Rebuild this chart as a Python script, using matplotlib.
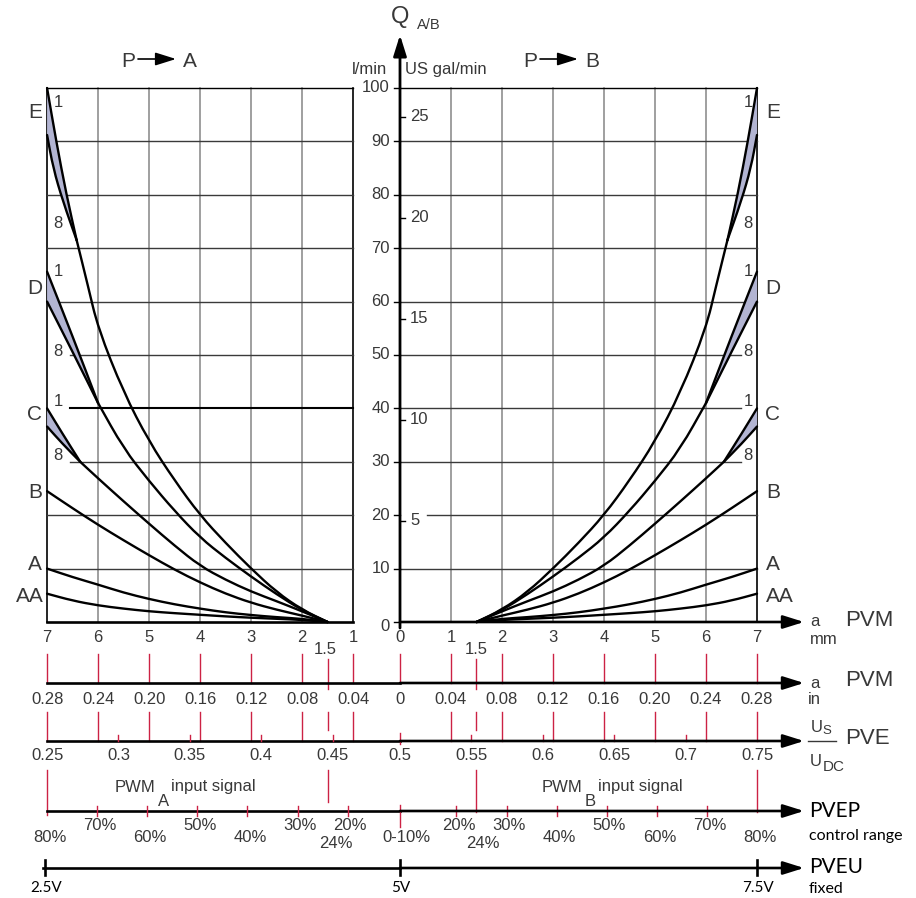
import numpy as np
import matplotlib.pyplot as plt
from matplotlib.patches import Polygon, PathPatch
from matplotlib.path import Path

plt.rcParams['font.family'] = ['Liberation Sans', 'DejaVu Sans']

# flow Q [l/min] against spool travel a [mm]
a_full = [1.5, 2, 2.5, 3, 3.5, 4, 4.5, 5, 5.5, 6, 6.5, 7]
q_AA = [0, 0.4, 0.6, 0.8, 1.05, 1.35, 1.65, 2.0, 2.5, 3.1, 4.0, 5.3]
q_A = [0, 0.6, 0.9, 1.3, 1.8, 2.5, 3.3, 4.3, 5.5, 7.0, 8.4, 10]
q_B = [0, 1.2, 2.3, 3.6, 5.3, 7.4, 9.8, 12.5, 15.3, 18.2, 21.3, 24.5]

a_C = [1.5, 2, 2.5, 3, 3.5, 4, 4.5, 5, 5.5, 6, 6.35]
q_C = [0, 2.0, 3.9, 5.7, 7.9, 10.5, 14.3, 18.4, 22.6, 26.9, 30.0]
a_C1, q_C1 = [6.35, 6.7, 7], [30, 35.3, 40]
a_C8, q_C8 = [6.35, 6.7, 7], [30, 33.4, 36.6]

a_D = [1.5, 2, 2.5, 3, 3.5, 4, 4.5, 5, 5.5, 6]
q_D = [0, 2.2, 5.2, 8.5, 12.0, 15.8, 20.8, 26.4, 32.5, 41]
a_D1, q_D1 = [6, 6.5, 7], [41, 53.5, 65.6]
a_D8, q_D8 = [6, 6.5, 7], [41, 50.6, 60]

a_E = [1.5, 2, 2.5, 3, 3.5, 4, 4.5, 5, 5.5, 6, 6.2, 6.42]
q_E = [0, 2.3, 5.6, 10, 14.8, 20, 26.5, 33.8, 43, 55, 63, 71.5]
a_E1, q_E1 = [6.42, 6.62, 6.82, 7], [71.5, 80, 90, 100]
a_E8, q_E8 = [6.42, 6.69, 6.88, 7], [71.5, 78.8, 85, 91.2]

curve_labels = ['E', 'D', 'C', 'B', 'A', 'AA']
label_q = [95.5, 62.5, 38.8, 24.2, 10.7, 4.7]

q_ticks = list(range(0, 101, 10))
gal_ticks = [5, 10, 15, 20, 25]
mm_ticks = [1, 2, 3, 4, 5, 6, 7]
in_labels = ['0.04', '0.08', '0.12', '0.16', '0.20', '0.24', '0.28']
pve_left = [0.25, 0.3, 0.35, 0.4, 0.45]
pve_right = [0.55, 0.6, 0.65, 0.7, 0.75]
pct_ticks = [80, 70, 60, 50, 40, 30, 20]
volt_ticks = [2.5, 5, 7.5]

GRAY = '#858585'
DARK = '#3a3a3a'
TXT = '#383838'
RED = '#cc2244'
FILL = '#b2b4d2'


def X(px):
    return (px - 400) / 51.0


def Y(py):
    return (622 - py) / 5.34


def xl(a):
    return -np.asarray(a, float) + 0.08


def xr(a):
    return np.asarray(a, float)


def pct_to_a(p):
    return 1.5 + (p - 24) * 5.5 / 56


def pve_to_a(u):
    return abs(u - 0.5) * 28


fig = plt.figure(figsize=(9.16, 8.98), dpi=100)
ax = fig.add_axes([0, 0, 1, 1])
ax.set_xlim(X(0), X(916))
ax.set_ylim(Y(898), Y(0))
ax.axis('off')


def arrow(x0, y0, x1, y1, lw=1.8):
    ax.annotate('', xy=(x1, y1), xytext=(x0, y0),
                arrowprops=dict(arrowstyle='-|>,head_length=0.7,head_width=0.22',
                                color='k', lw=lw, mutation_scale=18,
                                shrinkA=0, shrinkB=0))


def curve(xs, ys):
    # quadratic bezier through the read points (smooth drawing)
    pts = np.column_stack([xs, ys])
    verts = [pts[0]]
    codes = [Path.MOVETO]
    if len(pts) > 2:
        mids = (pts[:-1] + pts[1:]) / 2
        verts.append(mids[0])
        codes.append(Path.LINETO)
        for i in range(1, len(pts) - 1):
            verts += [pts[i], mids[i]]
            codes += [Path.CURVE3, Path.CURVE3]
    verts.append(pts[-1])
    codes.append(Path.LINETO)
    ax.add_patch(PathPatch(Path(verts, codes), fc='none', ec='k', lw=1.7,
                           zorder=3, capstyle='round', joinstyle='round'))


# ---- grids
for a in range(2, 7):
    ax.plot([xl(a)] * 2, [0, 100], color=GRAY, lw=1.1, zorder=1)
    ax.plot([xr(a)] * 2, [0, 100], color=GRAY, lw=1.1, zorder=1)
ax.plot([xr(1)] * 2, [0, 100], color=GRAY, lw=1.1, zorder=1)
for xx in [xl(7), xl(1), xr(7)]:
    ax.plot([xx] * 2, [0, 100], color='k', lw=1.2, zorder=1)

for q in q_ticks[1:]:
    l0 = X(70) if q in (30, 40, 50) else xl(7)
    r0 = X(427) if q == 20 else 0
    r1 = X(741) if q in (30, 40, 50) else xr(7)
    col = 'k' if q == 100 else DARK
    lwl = 1.5 if q == 40 else 1.0
    ax.plot([l0, xl(1)], [q, q], color='k' if q in (40, 100) else col, lw=lwl, zorder=1)
    ax.plot([r0, r1], [q, q], color=col, lw=1.0, zorder=1)

# ---- curves
for side in (xl, xr):
    for aa, qq in [(a_full, q_AA), (a_full, q_A), (a_full, q_B),
                   (a_C, q_C), (a_D, q_D), (a_E, q_E)]:
        curve(side(aa), qq)
    for (a1, q1), (a8, q8) in [((a_C1, q_C1), (a_C8, q_C8)),
                               ((a_D1, q_D1), (a_D8, q_D8)),
                               ((a_E1, q_E1), (a_E8, q_E8))]:
        pts = np.column_stack([np.concatenate([side(a1), side(a8)[::-1]]),
                               np.concatenate([q1, q8[::-1]])])
        ax.add_patch(Polygon(pts, closed=True, fc=FILL, ec='none', zorder=2))
        curve(side(a1), q1)
        curve(side(a8), q8)

# curve letters and 1 / 8 markers
for lab, q in zip(curve_labels, label_q):
    ax.text(X(30 if lab == 'AA' else 35), q, lab, ha='center', va='center',
            fontsize=15, color=TXT)
    ax.text(X(780 if lab == 'AA' else 773), q, lab, ha='center', va='center',
            fontsize=15, color=TXT)
for py, s in [(103, '1'), (224, '8'), (272, '1'), (352, '8'), (402, '1'), (456, '8')]:
    ax.text(X(58), Y(py), s, ha='center', va='center', fontsize=12, color=TXT)
    ax.text(X(748), Y(py), s, ha='center', va='center', fontsize=12, color=TXT)

# ---- vertical Q axis
arrow(0, Y(628), 0, Y(35), lw=2.0)
for q in q_ticks:
    ax.plot([X(394), 0], [q, q], color='k', lw=1.0)
    ax.text(X(390), q - (0.9 if q == 0 else 0), str(q), ha='right', va='center',
            fontsize=12, color=TXT)
for g in gal_ticks:
    ax.plot([0, X(405)], [g * 3.785, g * 3.785], color='k', lw=1.0)
    ax.text(X(410), g * 3.785, str(g), ha='left', va='center', fontsize=12, color=TXT)
ax.text(X(400), Y(17), 'Q', ha='center', va='center', fontsize=17, color=TXT)
ax.text(X(417), Y(25), 'A/B', ha='left', va='center', fontsize=10.5, color=TXT)
ax.text(X(370), Y(70), 'l/min', ha='center', va='center', fontsize=12, color=TXT)
ax.text(X(405), Y(70), 'US gal/min', ha='left', va='center', fontsize=12, color=TXT)

# P -> A, P -> B
for p0, a0, a1, t in [(128, 138, 176, 'A'), (530, 540, 578, 'B')]:
    ax.text(X(p0), Y(62), 'P', ha='center', va='center', fontsize=15, color=TXT)
    arrow(X(a0), Y(59), X(a1), Y(59), lw=1.2)
    ax.text(X(a1 + 14), Y(62), t, ha='center', va='center', fontsize=15, color=TXT)

# ---- row 1: a in mm
ax.plot([xl(7), xl(1)], [0, 0], color='k', lw=1.9, zorder=4)
arrow(0, 0, X(804), 0, lw=1.9)
for a in mm_ticks:
    ax.text(xl(a), Y(637), str(a), ha='center', va='center', fontsize=12, color=TXT)
    ax.text(xr(a), Y(637), str(a), ha='center', va='center', fontsize=12, color=TXT)
ax.text(0, Y(637), '0', ha='center', va='center', fontsize=12, color=TXT)
ax.text(xl(1.5) - 0.05, Y(650), '1.5', ha='center', va='center', fontsize=12, color=TXT)
ax.text(xr(1.5), Y(650), '1.5', ha='center', va='center', fontsize=12, color=TXT)
ax.text(X(810), Y(622), 'a', ha='left', va='center', fontsize=12, color=TXT)
ax.text(X(810), Y(639), 'mm', ha='left', va='center', fontsize=12, color=TXT)
ax.text(X(845), Y(620), 'PVM', ha='left', va='center', fontsize=16, color=TXT)

# red connectors
for a in mm_ticks:
    for xx in (xl(a), xr(a)):
        ax.plot([xx] * 2, [Y(654), Y(683)], color=RED, lw=1.0)
        ax.plot([xx] * 2, [Y(712), Y(741)], color=RED, lw=1.0)
ax.plot([0, 0], [Y(654), Y(683)], color=RED, lw=1.0)
for xx in (xl(1.5), xr(1.5)):
    ax.plot([xx] * 2, [Y(659), Y(689)], color=RED, lw=1.0)
    ax.plot([xx] * 2, [Y(712), Y(730)], color=RED, lw=1.0)

# ---- row 2: a in inch
ax.plot([xl(7), 0], [Y(683)] * 2, color='k', lw=1.9)
arrow(0, Y(683), X(804), Y(683), lw=1.9)
for a, s in zip(mm_ticks, in_labels):
    ax.text(xl(a), Y(700), s, ha='center', va='center', fontsize=12, color=TXT)
    ax.text(xr(a), Y(700), s, ha='center', va='center', fontsize=12, color=TXT)
ax.text(0, Y(700), '0', ha='center', va='center', fontsize=12, color=TXT)
ax.text(X(810), Y(683), 'a', ha='left', va='center', fontsize=12, color=TXT)
ax.text(X(808), Y(699), 'in', ha='left', va='center', fontsize=12, color=TXT)
ax.text(X(845), Y(681), 'PVM', ha='left', va='center', fontsize=16, color=TXT)

# ---- row 3: Us/UDC
ax.plot([xl(7), 0], [Y(741)] * 2, color='k', lw=1.9)
arrow(0, Y(741), X(804), Y(741), lw=1.9)
for u in pve_left + [0.5] + pve_right:
    xx = 0 if u == 0.5 else (xl(pve_to_a(u)) if u < 0.5 else xr(pve_to_a(u)))
    if u == 0.5:
        ax.plot([xx] * 2, [Y(733), Y(744)], color=RED, lw=1.0)
    elif u not in (0.25, 0.75):
        ax.plot([xx] * 2, [Y(735), Y(741)], color=RED, lw=1.0)
    ax.text(xx, Y(756), f'{u:g}', ha='center', va='center', fontsize=12, color=TXT)
ax.text(X(817), Y(728), 'U', ha='center', va='center', fontsize=12, color=TXT)
ax.text(X(827), Y(731), 'S', ha='center', va='center', fontsize=9.5, color=TXT)
ax.plot([X(808), X(836)], [Y(741)] * 2, color=TXT, lw=1.0)
ax.text(X(816), Y(762), 'U', ha='center', va='center', fontsize=12, color=TXT)
ax.text(X(834), Y(767), 'DC', ha='center', va='center', fontsize=11, color=TXT)
ax.text(X(845), Y(738), 'PVE', ha='left', va='center', fontsize=16, color=TXT)

# red connectors to PVEP
ax.plot([xl(7)] * 2, [Y(770), Y(815)], color=RED, lw=1.0)
ax.plot([xr(7)] * 2, [Y(770), Y(812)], color=RED, lw=1.0)
ax.plot([xl(1.5)] * 2, [Y(770), Y(802)], color=RED, lw=1.0)
ax.plot([xr(1.5)] * 2, [Y(770), Y(812)], color=RED, lw=1.0)

for x0, sub in [(115, 'A'), (542, 'B')]:
    ax.text(X(x0), Y(787), 'PWM', ha='left', va='center', fontsize=12, color=TXT)
    ax.text(X(x0 + 43), Y(801), sub, ha='left', va='center', fontsize=12, color=TXT)
    ax.text(X(x0 + 56), Y(787), 'input signal', ha='left', va='center', fontsize=12, color=TXT)

# ---- row 4: PVEP control range
ax.plot([xl(7), 0], [Y(811)] * 2, color='k', lw=1.9)
arrow(0, Y(811), X(804), Y(811), lw=1.9)
for p in pct_ticks:
    upper = p in (70, 50, 30, 20)
    for side in (xl, xr):
        xx = side(pct_to_a(p))
        if p != 80:
            ax.plot([xx] * 2, [Y(806), Y(816)], color=RED, lw=1.0)
        ax.text(xx + 0.05, Y(826 if upper else 837), f'{p}%', ha='center', va='center',
                fontsize=12, color=TXT)
ax.plot([0, 0], [Y(805), Y(827)], color=RED, lw=1.0)
ax.text(X(406), Y(837), '0-10%', ha='center', va='center', fontsize=12, color=TXT)
ax.text(xl(1.5) + 0.17, Y(843), '24%', ha='center', va='center', fontsize=12, color=TXT)
ax.text(xr(1.5) + 0.12, Y(843), '24%', ha='center', va='center', fontsize=12, color=TXT)
ax.text(X(809), Y(811), 'PVEP', ha='left', va='center', fontsize=15, color='k',
        family='Lato')
ax.text(X(809), Y(836), 'control range', ha='left', va='center', fontsize=11.5,
        color='k', family='Lato')

# ---- row 5: PVEU fixed
ax.plot([X(43), 0], [Y(868)] * 2, color='k', lw=1.9)
arrow(0, Y(868), X(804), Y(868), lw=1.9)
for v in volt_ticks:
    a = (v - 5) / 2.5 * 7
    xx = xl(-a) - 0.04 if v < 5 else xr(a)
    ax.plot([xx] * 2, [Y(860), Y(875)], color='k', lw=1.9)
    ax.text(xx + 0.02, Y(888), f'{v:g}V', ha='center', va='center', fontsize=11,
            color='k', family='Lato')
ax.text(X(809), Y(867), 'PVEU', ha='left', va='center', fontsize=15, color='k',
        family='Lato')
ax.text(X(809), Y(889), 'fixed', ha='left', va='center', fontsize=11.5, color='k',
        family='Lato')

fig.savefig('out.png', dpi=100)
